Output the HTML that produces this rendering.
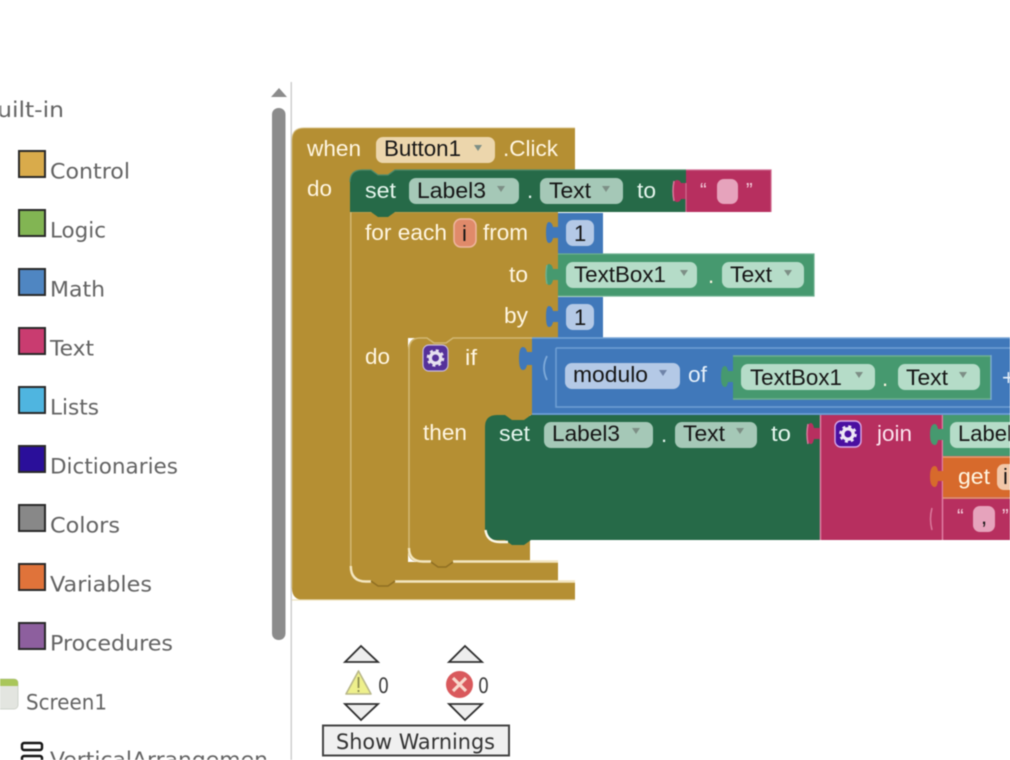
<!DOCTYPE html>
<html><head><meta charset="utf-8"><style>
html,body{margin:0;padding:0;background:#fff;width:1010px;height:760px;overflow:hidden}
svg{display:block;filter:blur(.45px)}
.b{font-family:"Liberation Sans",sans-serif;font-size:22px;fill:#fff6e2}
.d{font-family:"Liberation Sans",sans-serif;font-size:22px;fill:#161616}
.s{font-family:"DejaVu Sans",sans-serif;font-size:21px;fill:#636363}
.hl{fill:none;stroke:#d2b873;stroke-width:1.5}
.br{fill:none;stroke:#f3e6bf;stroke-width:2.4}
</style></head><body>
<svg width="1010" height="760" viewBox="0 0 1010 760" xmlns="http://www.w3.org/2000/svg">
<defs>
<g id="gear"><circle r="5.2" fill="none" stroke="#fff" stroke-width="3.4"/><circle r="7.6" fill="none" stroke="#fff" stroke-width="2.4" stroke-dasharray="3 2.97"/></g>
</defs>

<!-- Sidebar -->
<text class="s" x="-19" y="117" textLength="83" lengthAdjust="spacingAndGlyphs">Built-in</text>
<g stroke="#2a2a2a" stroke-width="2">
<rect x="19" y="151" width="26" height="26" fill="#d9ab4b"/>
<rect x="19" y="210" width="26" height="26" fill="#82b553"/>
<rect x="19" y="269" width="26" height="26" fill="#4f86c2"/>
<rect x="19" y="328" width="26" height="26" fill="#c93c70"/>
<rect x="19" y="387" width="26" height="26" fill="#4fb5e0"/>
<rect x="19" y="446" width="26" height="26" fill="#2a0f9a"/>
<rect x="19" y="505" width="26" height="26" fill="#888888"/>
<rect x="19" y="564" width="26" height="26" fill="#e0733a"/>
<rect x="19" y="623" width="26" height="26" fill="#8d5f9e"/>
</g>
<text class="s" x="50" y="178.500" textLength="80" lengthAdjust="spacingAndGlyphs">Control</text>
<text class="s" x="50" y="237.500" textLength="56" lengthAdjust="spacingAndGlyphs">Logic</text>
<text class="s" x="50" y="296.500" textLength="55" lengthAdjust="spacingAndGlyphs">Math</text>
<text class="s" x="50" y="355.500" textLength="44" lengthAdjust="spacingAndGlyphs">Text</text>
<text class="s" x="50" y="414.500" textLength="49" lengthAdjust="spacingAndGlyphs">Lists</text>
<text class="s" x="50" y="473.500" textLength="128" lengthAdjust="spacingAndGlyphs">Dictionaries</text>
<text class="s" x="50" y="532.500" textLength="70" lengthAdjust="spacingAndGlyphs">Colors</text>
<text class="s" x="50" y="591.500" textLength="102" lengthAdjust="spacingAndGlyphs">Variables</text>
<text class="s" x="50" y="650.500" textLength="123" lengthAdjust="spacingAndGlyphs">Procedures</text>
<rect x="-10" y="679" width="28" height="30" rx="4" fill="#e3e5e0" stroke="#cfd2cb"/>
<path d="M-10 686V683Q-10 679-6 679H14Q18 679 18 683V686Z" fill="#a9c65a"/>
<text class="s" x="26" y="709.500" textLength="81" lengthAdjust="spacingAndGlyphs">Screen1</text>
<rect x="22" y="743" width="20" height="7" rx="2" fill="#fff" stroke="#151515" stroke-width="2.4"/>
<rect x="22" y="756" width="20" height="9" rx="2" fill="#fff" stroke="#151515" stroke-width="2.4"/>
<text class="s" x="50" y="767" textLength="218" lengthAdjust="spacingAndGlyphs">VerticalArrangemen</text>

<!-- Scrollbar + divider -->
<path d="M271 97L279 88L287 97Z" fill="#8c8c8c"/>
<rect x="272" y="108" width="13.5" height="532" rx="6.5" fill="#8c8c8c"/>
<rect x="290.5" y="82" width="1.5" height="678" fill="#cfcfcf"/>

<!-- Gold blocks -->
<path d="M304 128H575V170H350V582H575V600H304Q292 600 292 588V140Q292 128 304 128Z" fill="#b58f33"/>
<path d="M292 588V140Q292 128 304 128H575" class="hl" stroke-opacity=".5"/>
<rect x="345" y="165" width="60" height="55" fill="#b58f33"/>
<rect x="345" y="570" width="213" height="12" fill="#b58f33"/>
<path d="M350 212H558V338H408V562H558V580H350Z" fill="#b58f33"/>
<path d="M420 338H532V415H485V545H530V562H420Q408 562 408 550V350Q408 338 420 338Z" fill="#b58f33"/>
<rect x="480" y="410" width="50" height="137" fill="#b58f33"/>
<path d="M350.8 212V566" class="hl"/>
<path d="M350.8 566Q350.8 581.500 366 581.500H371M395 581.500H575" class="br"/>
<path d="M371 581L378 586H388L395 581" fill="none" stroke="#8f6f22" stroke-width="1.4"/>
<path d="M350 212H558" class="hl" stroke-opacity=".5"/>
<path d="M409 350V548" class="hl"/>
<path d="M409 548Q409 561.500 423 561.500H431M453 561.500H558" class="br"/>
<path d="M431 562L438 567H446L453 562" fill="none" stroke="#8f6f22" stroke-width="1.4"/>
<path d="M409 350Q409 338 420 338H427L434 343H446L453 338H532" class="hl"/>
<path d="M292 600H575" stroke="#efe3bd" stroke-width="1.2" fill="none"/>

<!-- Top set -->
<path d="M362 170H371L378 175H388L395 170H686V212H395L388 217H378L371 212H350V182Q350 170 362 170Z" fill="#266a48"/>
<path d="M350 182Q350 170 362 170H371L378 175H388L395 170H686" fill="none" stroke="#4d8a6a" stroke-width="1.2"/>

<!-- Pink empty string -->
<path d="M686 170H771V212H686V199H681Q680 202 677 202Q673 202 673 191Q673 180 677 180Q680 180 681 183H686Z" fill="#b72f5f"/>
<path d="M686 170H771V212M686 183V212" fill="none" stroke="#cf6a8f" stroke-width="1.2"/>
<path d="M674 181Q672 191 674 201" fill="none" stroke="#d9799c" stroke-width="1.5"/>

<!-- Number/green value blocks -->
<path d="M558 213H603V254H558V238H553Q552 243 549 243Q546 243 546 232.500Q546 222 549 222Q552 222 553 227H558Z" fill="#4078ba"/>
<path d="M558 254H814V296H558V280H553Q552 285 549 285Q546 285 546 274.500Q546 264 549 264Q552 264 553 269H558Z" fill="#46996f"/>
<path d="M558 254H814V296H558" fill="none" stroke="#6cb08e" stroke-width="1.2"/>
<path d="M547 265Q545 275 547 284" fill="none" stroke="#6cb08e" stroke-width="1.5"/>
<path d="M558 297H603V338H558V322H553Q552 327 549 327Q546 327 546 316.500Q546 306 549 306Q552 306 553 311H558Z" fill="#4078ba"/>

<!-- Big blue if condition -->
<path d="M532 338H1010V415H532V365H527Q526 370 523 370Q519 370 519 358.500Q519 347 523 347Q526 347 527 352H532Z" fill="#4078ba"/>
<path d="M532 338H1010M532 414H1010" fill="none" stroke="#74a3d6" stroke-width="1.5"/>
<path d="M556 348H1010M556 348V407H1010" fill="none" stroke="#6f9fd3" stroke-width="1.5"/>
<path d="M547 356Q541 368 547 380" fill="none" stroke="#7eaad9" stroke-width="1.8"/>
<path d="M733 356H991V399H733V382H728Q727 387 725 387Q721 387 721 377Q721 366 725 366Q727 366 728 371H733Z" fill="#46996f"/>
<path d="M733 356H991V399H733" fill="none" stroke="#6fb090" stroke-width="1.4"/>
<path d="M991 355V400" stroke="#7eaad9" stroke-width="1.2" fill="none"/>

<!-- Dark green second set -->
<path d="M497 415H505L512 420H524L531 415H820V540H531L524 545H512L505 540H497Q485 540 485 528V427Q485 415 497 415Z" fill="#266a48"/>
<path d="M485.500 530Q487 542 500 542H508" fill="none" stroke="#fbf7e8" stroke-width="2.400"/>

<!-- Pink join -->
<rect x="820" y="415" width="190" height="125" fill="#b72f5f"/>
<path d="M820.500 415V540M942.500 415V540" stroke="#e07ea3" stroke-width="1.5" fill="none"/>
<path d="M820 439H814Q813 444 811 444Q807 444 807 433.500Q807 423 811 423Q813 423 814 428H820Z" fill="#b72f5f"/>
<path d="M808 424Q806 434 808 444" fill="none" stroke="#d9799c" stroke-width="1.5"/>

<path d="M943 415H1010V456H943V440H938Q937 445 935 445Q930 445 930 434.500Q930 424 935 424Q937 424 938 429H943Z" fill="#46996f"/>
<path d="M943 457H1010V497H943V481H938Q937 487 935 487Q930 487 930 476.500Q930 466 935 466Q937 466 938 471H943Z" fill="#d76a2c"/>
<path d="M943 457H1010M943 498H1010" stroke="#e5a172" stroke-width="1.5" fill="none"/>
<path d="M932 508Q929 519 932 530" fill="none" stroke="#d9799c" stroke-width="1.5"/>

<!-- Pills -->
<g fill="#ecd6ac"><rect x="376" y="137" width="119" height="26" rx="7"/></g>
<g fill="#a5c8b7">
<rect x="409" y="178" width="110" height="26" rx="7"/>
<rect x="540" y="178" width="83" height="26" rx="7"/>
<rect x="544" y="422" width="109" height="26" rx="7"/>
<rect x="675" y="422" width="82" height="26" rx="7"/>
</g>
<g fill="#b5dcc8">
<rect x="566" y="262" width="131" height="26" rx="7"/>
<rect x="722" y="262" width="82" height="26" rx="7"/>
<rect x="741" y="364" width="134" height="26" rx="7"/>
<rect x="898" y="364" width="82" height="26" rx="7"/>
<rect x="950" y="422" width="70" height="26" rx="7"/>
</g>
<g fill="#b4c9e6">
<rect x="566" y="220" width="28" height="26" rx="7"/>
<rect x="566" y="304" width="28" height="26" rx="7"/>
<rect x="565" y="363" width="115" height="26" rx="7"/>
</g>
<rect x="454" y="219" width="22" height="28" rx="7" fill="#e08a6a" stroke="#eeb79f" stroke-width="1.5"/>
<rect x="997" y="464" width="22" height="26" rx="7" fill="#f2c7a8"/>
<rect x="717" y="179" width="21" height="25" rx="7" fill="#e6a3bc"/>
<rect x="973" y="506" width="22" height="26" rx="7" fill="#e6a3bc"/>

<!-- Dropdown arrows -->
<g fill="#7d8f86">
<path d="M474 145H482L478 151Z"/>
<path d="M497 186H505L501 192Z"/>
<path d="M602 186H610L606 192Z"/>
<path d="M632 428H640L636 434Z"/>
<path d="M736 428H744L740 434Z"/>
<path d="M680 270H688L684 276Z"/>
<path d="M784 270H792L788 276Z"/>
<path d="M855 372H863L859 378Z"/>
<path d="M959 372H967L963 378Z"/>
</g>
<path d="M659 370H667L663 376Z" fill="#6f84a8"/>

<!-- Gear icons -->
<rect x="423" y="345" width="25" height="26" rx="6" fill="#55319a" stroke="#c8bce0" stroke-width="1.2"/>
<use href="#gear" transform="translate(435.500 358)" opacity=".85"/>
<rect x="835" y="421" width="26" height="26" rx="6" fill="#4a0fa0" stroke="#d8a8e8" stroke-width="1.4"/>
<use href="#gear" transform="translate(848 434)" opacity=".9"/>

<!-- Block text -->
<text class="b" x="307" y="156" textLength="54" lengthAdjust="spacingAndGlyphs">when</text>
<text class="d" x="384" y="156" textLength="77" lengthAdjust="spacingAndGlyphs">Button1</text>
<text class="b" x="503" y="156" textLength="55" lengthAdjust="spacingAndGlyphs">.Click</text>
<text class="b" x="307" y="196" textLength="25" lengthAdjust="spacingAndGlyphs">do</text>
<text class="b" x="365" y="198" textLength="31" lengthAdjust="spacingAndGlyphs" style="fill:#e6f6ee">set</text>
<text class="d" x="417" y="198" textLength="69" lengthAdjust="spacingAndGlyphs">Label3</text>
<text class="b" x="527" y="198" style="fill:#e6f6ee">.</text>
<text class="d" x="549" y="198" textLength="42" lengthAdjust="spacingAndGlyphs">Text</text>
<text class="b" x="637" y="198" textLength="19" lengthAdjust="spacingAndGlyphs" style="fill:#e6f6ee">to</text>
<text class="b" x="700" y="197" style="fill:#f2c9d8;font-size:20px">“</text>
<text class="b" x="746" y="197" style="fill:#f2c9d8;font-size:20px">”</text>

<text class="b" x="365" y="240" textLength="82" lengthAdjust="spacingAndGlyphs">for each</text>
<text class="d" x="462" y="241">i</text>
<text class="b" x="483" y="240" textLength="45" lengthAdjust="spacingAndGlyphs">from</text>
<text class="d" x="574" y="241">1</text>
<text class="b" x="509" y="282" textLength="19" lengthAdjust="spacingAndGlyphs">to</text>
<text class="d" x="574" y="282" textLength="92" lengthAdjust="spacingAndGlyphs">TextBox1</text>
<text class="b" x="708" y="283">.</text>
<text class="d" x="730" y="282" textLength="42" lengthAdjust="spacingAndGlyphs">Text</text>
<text class="b" x="504" y="323" textLength="24" lengthAdjust="spacingAndGlyphs">by</text>
<text class="d" x="574" y="325">1</text>
<text class="b" x="365" y="364" textLength="25" lengthAdjust="spacingAndGlyphs">do</text>
<text class="b" x="465" y="365" textLength="12" lengthAdjust="spacingAndGlyphs">if</text>
<text class="d" x="573" y="382" textLength="75" lengthAdjust="spacingAndGlyphs">modulo</text>
<text class="b" x="688" y="382" textLength="19" lengthAdjust="spacingAndGlyphs" style="fill:#e6f0fa">of</text>
<text class="d" x="750" y="385" textLength="92" lengthAdjust="spacingAndGlyphs">TextBox1</text>
<text class="b" x="882" y="386">.</text>
<text class="d" x="906" y="385" textLength="42" lengthAdjust="spacingAndGlyphs">Text</text>
<text class="b" x="1002" y="385" style="fill:#e6f0fa">+</text>
<text class="b" x="423" y="440" textLength="44" lengthAdjust="spacingAndGlyphs">then</text>
<text class="b" x="499" y="441" textLength="31" lengthAdjust="spacingAndGlyphs" style="fill:#e6f6ee">set</text>
<text class="d" x="552" y="441" textLength="68" lengthAdjust="spacingAndGlyphs">Label3</text>
<text class="b" x="661" y="442" style="fill:#e6f6ee">.</text>
<text class="d" x="683" y="441" textLength="42" lengthAdjust="spacingAndGlyphs">Text</text>
<text class="b" x="771" y="441" textLength="20" lengthAdjust="spacingAndGlyphs" style="fill:#e6f6ee">to</text>
<text class="b" x="877" y="441" textLength="35" lengthAdjust="spacingAndGlyphs" style="fill:#fbe4ee">join</text>
<text class="d" x="958" y="441">Label</text>
<text class="b" x="958" y="484" textLength="32" lengthAdjust="spacingAndGlyphs">get</text>
<text class="d" x="1003" y="484">i</text>
<text class="b" x="957" y="523" style="fill:#f2c9d8;font-size:20px">“</text>
<text class="d" x="981" y="524">,</text>
<text class="b" x="1002" y="523" style="fill:#f2c9d8;font-size:20px">”</text>

<!-- Warning indicators -->
<g fill="#eeeeee" stroke="#2f2f2f" stroke-width="1.8">
<path d="M345 662L361 646L378 662Z"/>
<path d="M449 662L465 646L482 662Z"/>
<path d="M345 704H378L361 720Z"/>
<path d="M449 704H482L465 720Z"/>
</g>
<path d="M346 694L358.500 671L371 694Z" fill="#eef08c" stroke="#b9b88a" stroke-width="1.6" stroke-linejoin="round"/>
<path d="M358.500 677V688M358.500 690V692" stroke="#8e8f50" stroke-width="1.8"/>
<text x="378" y="693" textLength="11" lengthAdjust="spacingAndGlyphs" style="font-family:'DejaVu Sans',sans-serif;font-size:21px;fill:#3d3d3d">0</text>
<circle cx="459.500" cy="684.500" r="13.500" fill="#d9595c"/>
<path d="M453 678L466 691M466 678L453 691" stroke="#f8d8cc" stroke-width="3.200"/>
<text x="478" y="693" textLength="11" lengthAdjust="spacingAndGlyphs" style="font-family:'DejaVu Sans',sans-serif;font-size:21px;fill:#3d3d3d">0</text>
<rect x="323" y="725.500" width="186" height="30" fill="#f0f0f0" stroke="#444" stroke-width="2"/>
<text class="s" x="336" y="749" textLength="159" lengthAdjust="spacingAndGlyphs" style="fill:#333">Show Warnings</text>
</svg>
</body></html>
